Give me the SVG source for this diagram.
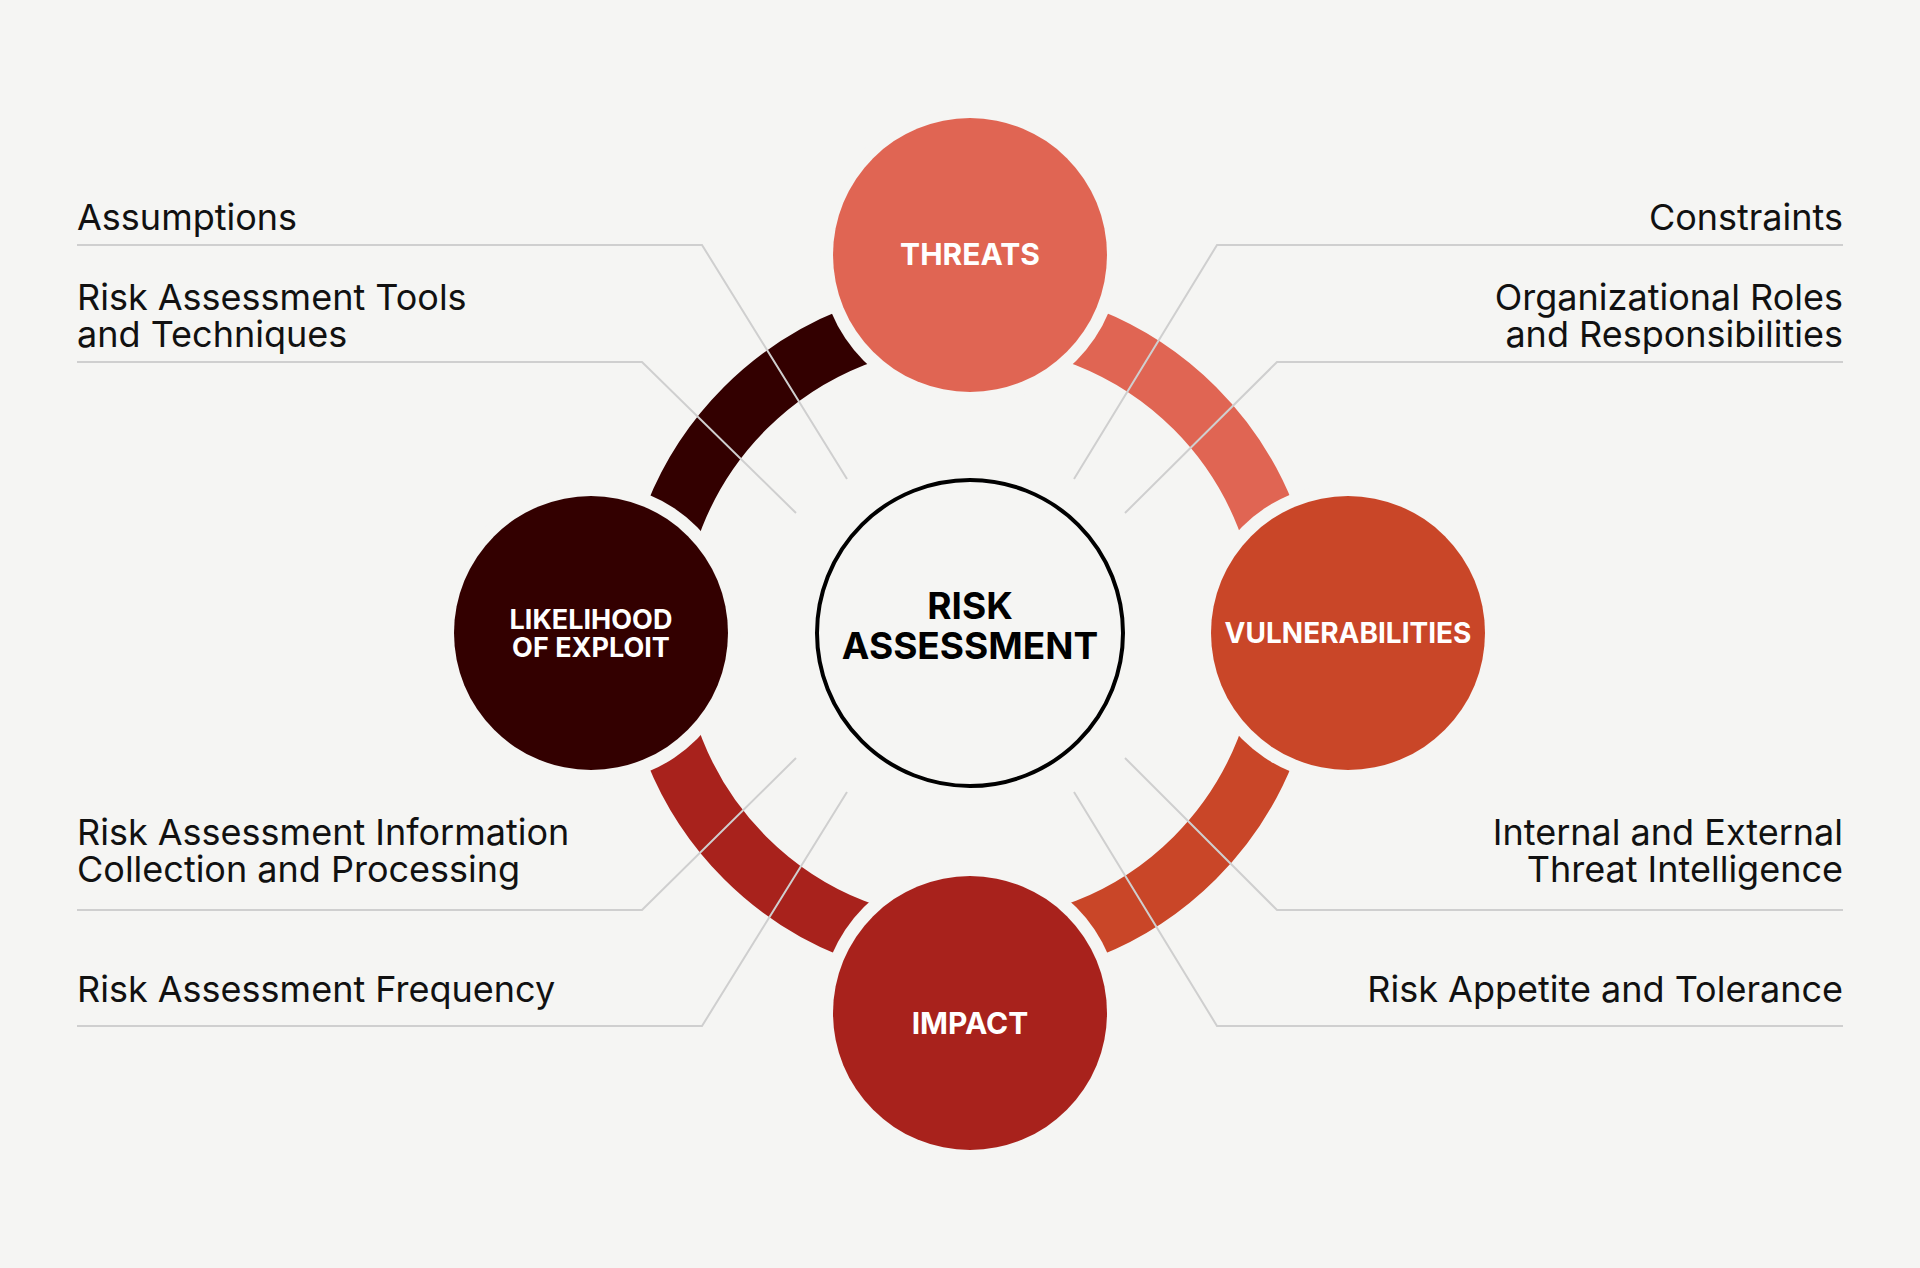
<svg xmlns="http://www.w3.org/2000/svg" width="1920" height="1268" viewBox="0 0 1920 1268">
<style>
.side{font-family:Inter,"Liberation Sans",sans-serif;font-size:36px;fill:#111}
.lab{font-family:Inter,"Liberation Sans",sans-serif;font-weight:700;fill:#fff;text-anchor:middle}
.ln{fill:none;stroke:#cfcfcf;stroke-width:2}
.arc{fill:none;stroke-width:60}
.gap{fill:#F5F5F3}
</style>
<rect width="1920" height="1268" fill="#F5F5F3"/>
<g id="ring">
<path class="arc" stroke="#E06553" d="M970 315 A318 318 0 0 1 1288 633"/>
<path class="arc" stroke="#C94628" d="M1288 633 A318 318 0 0 1 970 951"/>
<path class="arc" stroke="#A8221C" d="M970 951 A318 318 0 0 1 652 633"/>
<path class="arc" stroke="#330000" d="M652 633 A318 318 0 0 1 970 315"/>
</g>
<g id="connectors">
<polyline class="ln" points="77,245 702,245 847,479"/>
<polyline class="ln" points="77,362 642,362 796,513"/>
<polyline class="ln" points="77,910 642,910 796,758"/>
<polyline class="ln" points="77,1026 702,1026 847,792"/>
<polyline class="ln" points="1843,245 1217,245 1074,479"/>
<polyline class="ln" points="1843,362 1277,362 1125,513"/>
<polyline class="ln" points="1843,910 1277,910 1125,758"/>
<polyline class="ln" points="1843,1026 1217,1026 1074,792"/>
</g>
<g id="threats"><circle class="gap" cx="970" cy="255" r="150"/><circle cx="970" cy="255" r="137" fill="#E06553"/><text class="lab" x="970" y="265" font-size="30">THREATS</text></g>
<g id="vulnerabilities"><circle class="gap" cx="1348" cy="633" r="150"/><circle cx="1348" cy="633" r="137" fill="#C94628"/><text class="lab" x="1348" y="643" font-size="28">VULNERABILITIES</text></g>
<g id="impact"><circle class="gap" cx="970" cy="1013" r="150"/><circle cx="970" cy="1013" r="137" fill="#A8221C"/><text class="lab" x="970" y="1034" font-size="30">IMPACT</text></g>
<g id="likelihood"><circle class="gap" cx="591" cy="633" r="150"/><circle cx="591" cy="633" r="137" fill="#330000"/><text class="lab" x="591" y="629" font-size="27">LIKELIHOOD</text><text class="lab" x="591" y="657" font-size="27">OF EXPLOIT</text></g>
<g id="center"><circle cx="970" cy="633" r="153" fill="#F5F5F3" stroke="#000" stroke-width="4"/>
<text class="lab" style="fill:#000" x="970" y="619" font-size="37">RISK</text><text class="lab" style="fill:#000" x="970" y="659" font-size="37">ASSESSMENT</text></g>
<g id="labels">
<text class="side" x="77" y="230">Assumptions</text>
<text class="side" x="77" y="310">Risk Assessment Tools</text>
<text class="side" x="77" y="347">and Techniques</text>
<text class="side" x="77" y="845">Risk Assessment Information</text>
<text class="side" x="77" y="882">Collection and Processing</text>
<text class="side" x="77" y="1002">Risk Assessment Frequency</text>
<g text-anchor="end">
<text class="side" x="1843" y="230">Constraints</text>
<text class="side" x="1843" y="310">Organizational Roles</text>
<text class="side" x="1843" y="347">and Responsibilities</text>
<text class="side" x="1843" y="845">Internal and External</text>
<text class="side" x="1843" y="882">Threat Intelligence</text>
<text class="side" x="1843" y="1002">Risk Appetite and Tolerance</text>
</g>
</g>
</svg>
